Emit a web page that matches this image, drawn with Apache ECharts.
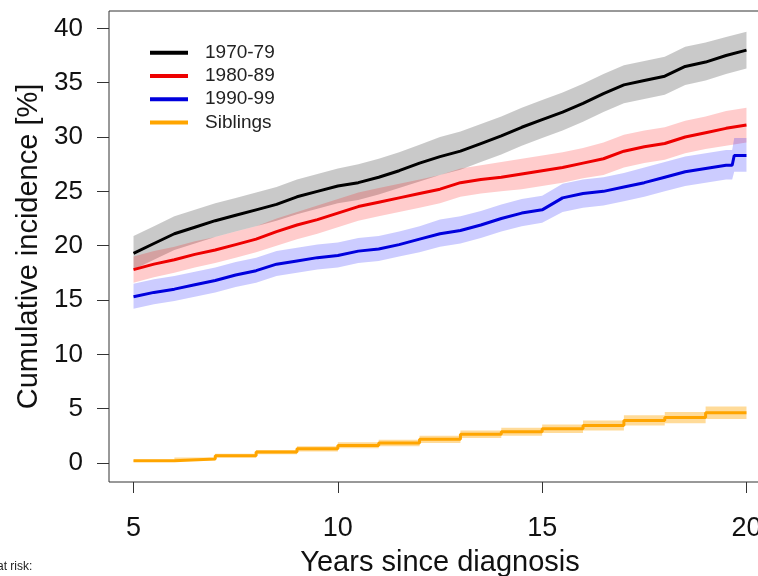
<!DOCTYPE html>
<html>
<head>
<meta charset="utf-8">
<script src="https://cdn.jsdelivr.net/npm/echarts@6/dist/echarts.min.js"></script>
<style>
  html, body { margin: 0; padding: 0; background: #fff; }
  #chart { width: 758px; height: 576px; }
</style>
</head>
<body>
<div id="chart"></div>
<script>
// time points (years since diagnosis)
const years = [5, 5.5, 6, 6.5, 7, 7.5, 8, 8.5, 9, 9.5, 10, 10.5, 11, 11.5, 12, 12.5,
  13, 13.5, 14, 14.5, 15, 15.5, 16, 16.5, 17, 17.5, 18, 18.5, 19, 19.5, 20]
const yearsBlue = [5, 5.5, 6, 6.5, 7, 7.5, 8, 8.5, 9, 9.5, 10, 10.5, 11, 11.5, 12, 12.5,
  13, 13.5, 14, 14.5, 15, 15.5, 16, 16.5, 17, 17.5, 18, 18.5, 19, 19.5, 19.65, 19.7, 20]
const yearsSib = [5, 6, 7, 8, 9, 10, 11, 12, 13, 14, 15, 16, 17, 18, 19, 20]

// 1970-79
const ci70 = [19.3, 20.2, 21.1, 21.7, 22.3, 22.8, 23.3, 23.8, 24.5, 25.0, 25.5, 25.8, 26.3, 26.9, 27.6, 28.2,
  28.7, 29.4, 30.1, 30.9, 31.6, 32.3, 33.1, 34.0, 34.8, 35.2, 35.6, 36.5, 36.9, 37.5, 38.0]
const lo70 = [17.8, 18.7, 19.6, 20.2, 20.8, 21.3, 21.8, 22.3, 22.9, 23.4, 23.9, 24.2, 24.7, 25.3, 25.9, 26.5,
  27.0, 27.7, 28.4, 29.2, 29.9, 30.6, 31.4, 32.3, 33.1, 33.5, 33.9, 34.8, 35.2, 35.8, 36.3]
const hi70 = [20.9, 21.8, 22.7, 23.3, 23.9, 24.4, 24.9, 25.4, 26.1, 26.6, 27.1, 27.5, 28.0, 28.6, 29.3, 30.0,
  30.5, 31.2, 31.9, 32.7, 33.4, 34.1, 34.9, 35.8, 36.6, 37.0, 37.4, 38.3, 38.7, 39.2, 39.7]

// 1980-89
const ci80 = [17.8, 18.3, 18.7, 19.2, 19.6, 20.1, 20.6, 21.3, 21.9, 22.4, 23.0, 23.6, 24.0, 24.4, 24.8, 25.2,
  25.8, 26.1, 26.3, 26.6, 26.9, 27.2, 27.6, 28.0, 28.7, 29.1, 29.4, 30.0, 30.4, 30.8, 31.1]
const lo80 = [16.6, 17.1, 17.5, 18.0, 18.4, 18.9, 19.4, 20.0, 20.6, 21.1, 21.7, 22.3, 22.7, 23.1, 23.5, 23.9,
  24.5, 24.8, 25.0, 25.2, 25.5, 25.8, 26.2, 26.5, 27.2, 27.6, 27.9, 28.5, 28.9, 29.2, 29.5]
const hi80 = [19.0, 19.5, 19.9, 20.4, 20.8, 21.3, 21.8, 22.5, 23.1, 23.7, 24.3, 24.9, 25.3, 25.7, 26.1, 26.5,
  27.1, 27.4, 27.7, 28.0, 28.3, 28.6, 29.0, 29.5, 30.2, 30.6, 30.9, 31.5, 31.9, 32.4, 32.7]

// 1990-99
const ci90 = [15.3, 15.7, 16.0, 16.4, 16.8, 17.3, 17.7, 18.3, 18.6, 18.9, 19.1, 19.5, 19.7, 20.1, 20.6, 21.1,
  21.4, 21.9, 22.5, 23.0, 23.3, 24.4, 24.8, 25.0, 25.4, 25.8, 26.3, 26.8, 27.1, 27.4, 27.4, 28.3, 28.3]
const lo90 = [14.2, 14.6, 14.9, 15.3, 15.7, 16.2, 16.6, 17.2, 17.5, 17.8, 18.0, 18.4, 18.6, 19.0, 19.4, 19.9,
  20.2, 20.7, 21.3, 21.8, 22.1, 23.1, 23.5, 23.7, 24.1, 24.5, 25.0, 25.5, 25.8, 26.1, 26.1, 26.8, 26.8]
const hi90 = [16.5, 16.9, 17.2, 17.6, 18.0, 18.5, 18.9, 19.5, 19.8, 20.1, 20.3, 20.7, 20.9, 21.3, 21.8, 22.4,
  22.7, 23.2, 23.8, 24.3, 24.6, 25.7, 26.1, 26.3, 26.7, 27.2, 27.7, 28.2, 28.5, 28.8, 28.8, 29.9, 29.9]

// Siblings
const ciSib = [0.2, 0.37, 0.67, 1.0, 1.3, 1.62, 1.85, 2.18, 2.65, 2.88, 3.15, 3.45, 3.92, 4.18, 4.63, 4.63]
const loSib = [0.12, 0.25, 0.5, 0.8, 1.05, 1.35, 1.55, 1.85, 2.3, 2.5, 2.75, 3.0, 3.45, 3.65, 4.05, 4.05]
const hiSib = [0.3, 0.5, 0.85, 1.2, 1.55, 1.9, 2.15, 2.5, 3.0, 3.25, 3.55, 3.9, 4.4, 4.7, 5.2, 5.2]

const xTicks = [5, 10, 15, 20]
const yTicks = [0, 5, 10, 15, 20, 25, 30, 35, 40]

const FONT = 'Liberation Sans, Arial, sans-serif'

// confidence band drawn as one polygon through the axis scales
function band(name, t, lo, hi, fill, step) {
  return {
    type: 'custom',
    name: name,
    silent: true,
    z: 1,
    encode: { x: 0, y: [1, 2] },
    data: t.map((x, i) => [x, lo[i], hi[i]]),
    renderItem(params, api) {
      if (params.dataIndex !== 0) return null
      const up = []
      const dn = []
      for (let i = 0; i < t.length; i++) {
        up.push(api.coord([t[i], hi[i]]))
        dn.push(api.coord([t[i], lo[i]]))
        if (step && i + 1 < t.length) {
          up.push(api.coord([t[i + 1], hi[i]]))
          dn.push(api.coord([t[i + 1], lo[i]]))
        }
      }
      return {
        type: 'polygon',
        shape: { points: up.concat(dn.reverse()) },
        style: { fill: fill }
      }
    }
  }
}

function curve(name, t, v, color, step) {
  return {
    type: 'line',
    name: name,
    z: 2,
    step: step ? 'end' : false,
    showSymbol: false,
    silent: true,
    color: color,
    lineStyle: { color: color, width: 3 },
    data: t.map((x, i) => [x, v[i]])
  }
}

const chart = echarts.init(document.getElementById('chart'))
chart.setOption({
  animation: false,
  grid: {
    left: 109,
    top: 11,
    width: 662,
    height: 471,
    outerBoundsMode: 'none',
    show: true,
    borderColor: '#333',
    borderWidth: 1
  },
  legend: {
    data: ['1970-79', '1980-89', '1990-99', 'Siblings'],
    orient: 'vertical',
    left: 150,
    top: 41,
    padding: 0,
    icon: 'rect',
    itemWidth: 38,
    itemHeight: 4,
    itemGap: 0,
    selectedMode: false,
    textStyle: {
      fontFamily: FONT,
      fontSize: 19,
      color: '#222',
      lineHeight: 23.3,
      padding: [0, 0, 0, 12]
    }
  },
  xAxis: {
    type: 'value',
    min: 4.4,
    max: 20.6,
    name: 'Years since diagnosis',
    nameLocation: 'middle',
    nameGap: 66,
    nameTextStyle: { fontFamily: FONT, fontSize: 29, color: '#111' },
    axisLine: { show: false, onZero: false },
    splitLine: { show: false },
    axisTick: { show: true, customValues: xTicks, length: 11, lineStyle: { color: '#333' } },
    axisLabel: { customValues: xTicks, fontFamily: FONT, fontSize: 27, color: '#111', margin: 33 }
  },
  yAxis: {
    type: 'value',
    min: -1.75,
    max: 41.6,
    name: 'Cumulative incidence [%]',
    nameLocation: 'middle',
    nameGap: 66,
    nameTextStyle: { fontFamily: FONT, fontSize: 29, color: '#111' },
    axisLine: { show: false, onZero: false },
    splitLine: { show: false },
    axisTick: { show: true, customValues: yTicks, length: 12, lineStyle: { color: '#333' } },
    axisLabel: { customValues: yTicks, fontFamily: FONT, fontSize: 26, color: '#111', margin: 26 }
  },
  graphic: [{
    type: 'text',
    left: -3,
    top: 561,
    style: { text: 'at risk:', font: '12px ' + FONT, fill: '#222' }
  }],
  series: [
    band('band70', years, lo70, hi70, 'rgba(0,0,0,0.21)', false),
    band('band80', years, lo80, hi80, 'rgba(255,0,0,0.2)', false),
    band('band90', yearsBlue, lo90, hi90, 'rgba(0,0,255,0.2)', false),
    band('bandSib', yearsSib, loSib, hiSib, 'rgba(255,165,0,0.4)', true),
    curve('1970-79', years, ci70, '#000000', false),
    curve('1980-89', years, ci80, '#ee0000', false),
    curve('1990-99', yearsBlue, ci90, '#0000dd', false),
    curve('Siblings', yearsSib, ciSib, '#ffa500', true)
  ]
})
</script>
</body>
</html>
